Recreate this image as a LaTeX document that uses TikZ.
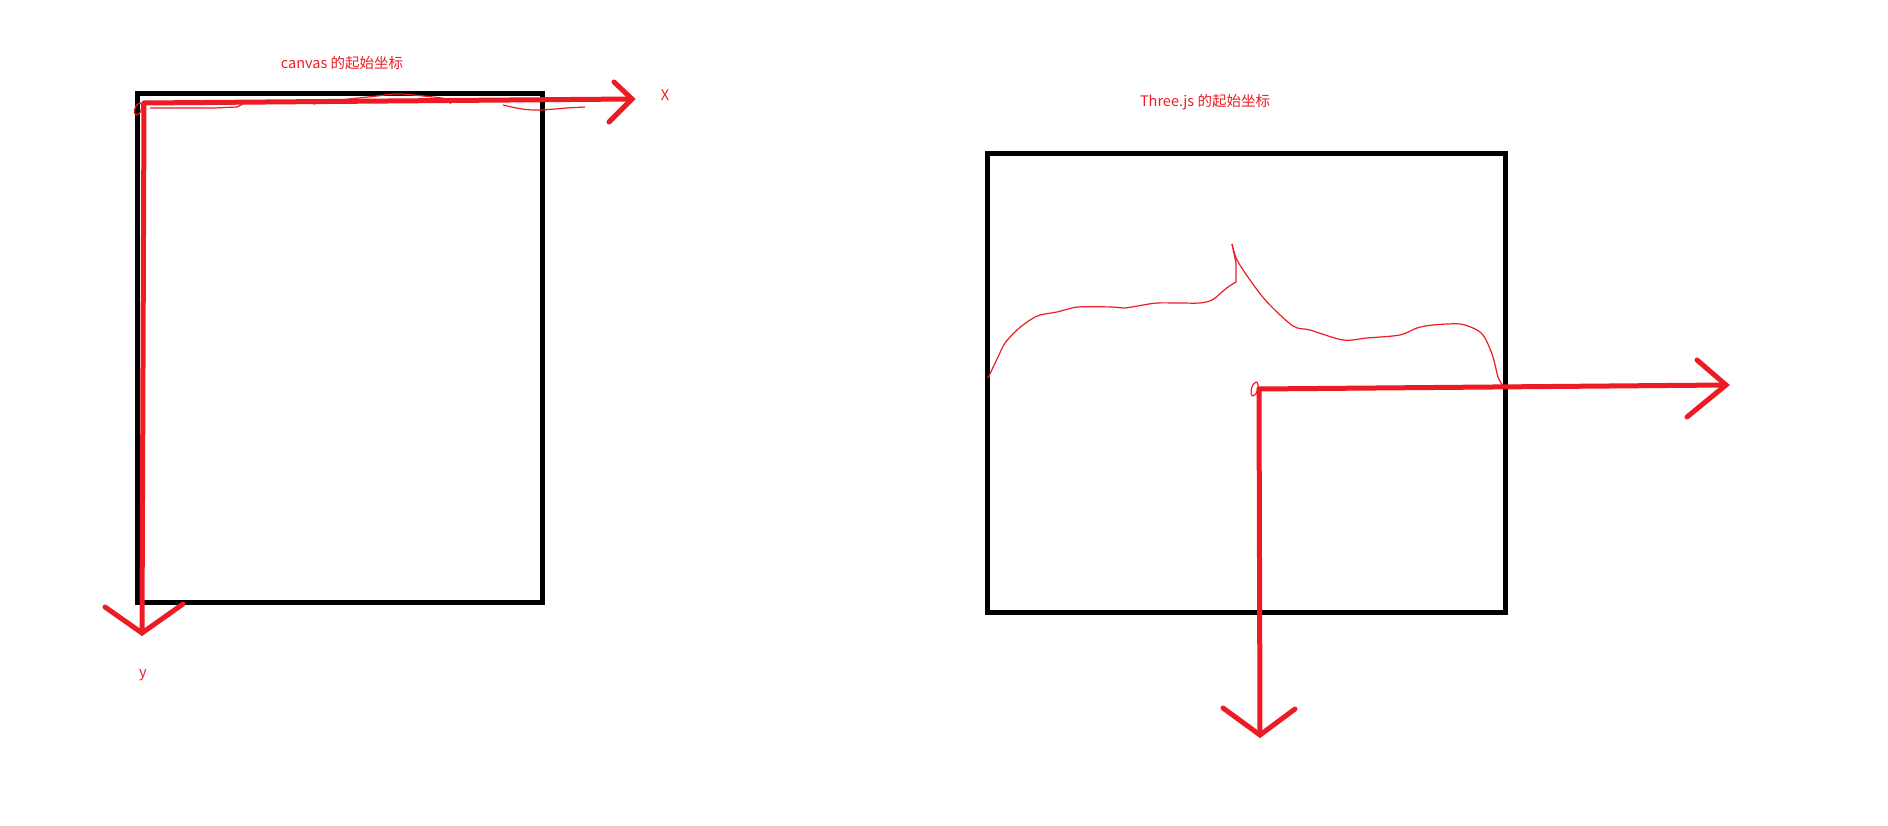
\documentclass[tikz,border=0pt]{standalone}
\usepackage{fontspec}
\setmainfont{Noto Sans CJK SC}
\usepackage{tikz}
\definecolor{paint_red}{RGB}{237, 28, 36}
\tikzstyle{box}=[draw=black,line width=5pt,line join=miter]
\tikzstyle{axis}=[draw=paint_red,line width=5pt,line cap=round]
\tikzstyle{scribble}=[draw=paint_red,line width=1.2pt,line join=round]
\tikzstyle{lbl}=[text=paint_red,font=\fontsize{14.5}{17}\selectfont,inner sep=0pt]
\tikzstyle{none}=[inner sep=0pt]

\begin{document}
\begin{tikzpicture}[x=1pt,y=-1pt]
		\useasboundingbox (0,0) rectangle (1888,826);
		% labels
		\node [style=lbl] (0) at (342, 63) {canvas 的起始坐标};
		\node [style=lbl] (1) at (665, 95) {X};
		\node [style=lbl] (2) at (143, 675) {y};
		\node [style=lbl] (3) at (1205, 102) {Three.js 的起始坐标};
		% box corners
		\node [style=none] (4) at (137.5, 93.5) {};
		\node [style=none] (5) at (542.5, 602.5) {};
		\node [style=none] (6) at (987.5, 153.5) {};
		\node [style=none] (7) at (1505.5, 612.5) {};
		% canvas axes
		\node [style=none] (8) at (144, 103) {};
		\node [style=none] (9) at (632, 99) {};
		\node [style=none] (10) at (614, 82) {};
		\node [style=none] (11) at (609, 122) {};
		\node [style=none] (12) at (142, 633) {};
		\node [style=none] (13) at (105, 607) {};
		\node [style=none] (14) at (183, 604) {};
		% three.js axes
		\node [style=none] (15) at (1259, 389) {};
		\node [style=none] (16) at (1726, 385) {};
		\node [style=none] (17) at (1697, 360) {};
		\node [style=none] (18) at (1687, 417) {};
		\node [style=none] (19) at (1260, 735) {};
		\node [style=none] (20) at (1223, 708) {};
		\node [style=none] (21) at (1295, 709) {};
		\draw [style=box] (4.center) rectangle (5.center);
		\draw [style=box] (6.center) rectangle (7.center);
		\draw [style=axis] (8.center) to (9.center);
		\draw [style=axis] (10.center) to (9.center) to (11.center);
		\draw [style=axis] (8.center) to (12.center);
		\draw [style=axis] (13.center) to (12.center) to (14.center);
		\draw [style=axis] (15.center) to (16.center);
		\draw [style=axis] (17.center) to (16.center) to (18.center);
		\draw [style=axis] (15.center) to (19.center);
		\draw [style=axis] (20.center) to (19.center) to (21.center);
		% hand scribbles
		\draw [style=scribble] (150,108) -- (215,108) -- (237,107) -- (243,104);
		\draw [style=scribble] plot [smooth, tension=0.6] coordinates {(313,104) (341,100) (377,96) (395,94) (413,95) (447,99) (450,104)};
		\draw [style=scribble] plot [smooth, tension=0.6] coordinates {(503,105) (522,109) (540,110) (567,108) (585,107)};
		\draw [style=scribble] (141,103) .. controls (133,104) and (133,116) .. (137,115) .. controls (141,114) and (143,107) .. (141,103);
		\draw [style=scribble] (1257,382) .. controls (1250,383) and (1250,397) .. (1253,396) .. controls (1257,395) and (1260,386) .. (1257,382);
		\draw [style=scribble] plot [smooth, tension=0.5] coordinates {(988,378) (998,357) (1005,343) (1017,330) (1030,320) (1040,315) (1057,312) (1078,307) (1112,307) (1125,308) (1143,305) (1157,303) (1180,303) (1200,303) (1212,300) (1222,292) (1228,287) (1236,282)} -- (1236,263) -- (1232,244);
		\draw [style=scribble] plot [smooth, tension=0.5] coordinates {(1232,244) (1237,260) (1250,280) (1267,302) (1293,326) (1310,330) (1343,340) (1367,338) (1400,335) (1417,328) (1433,325) (1460,324) (1477,330) (1485,338) (1493,357) (1498,377) (1503,386)};
\end{tikzpicture}
\end{document}
